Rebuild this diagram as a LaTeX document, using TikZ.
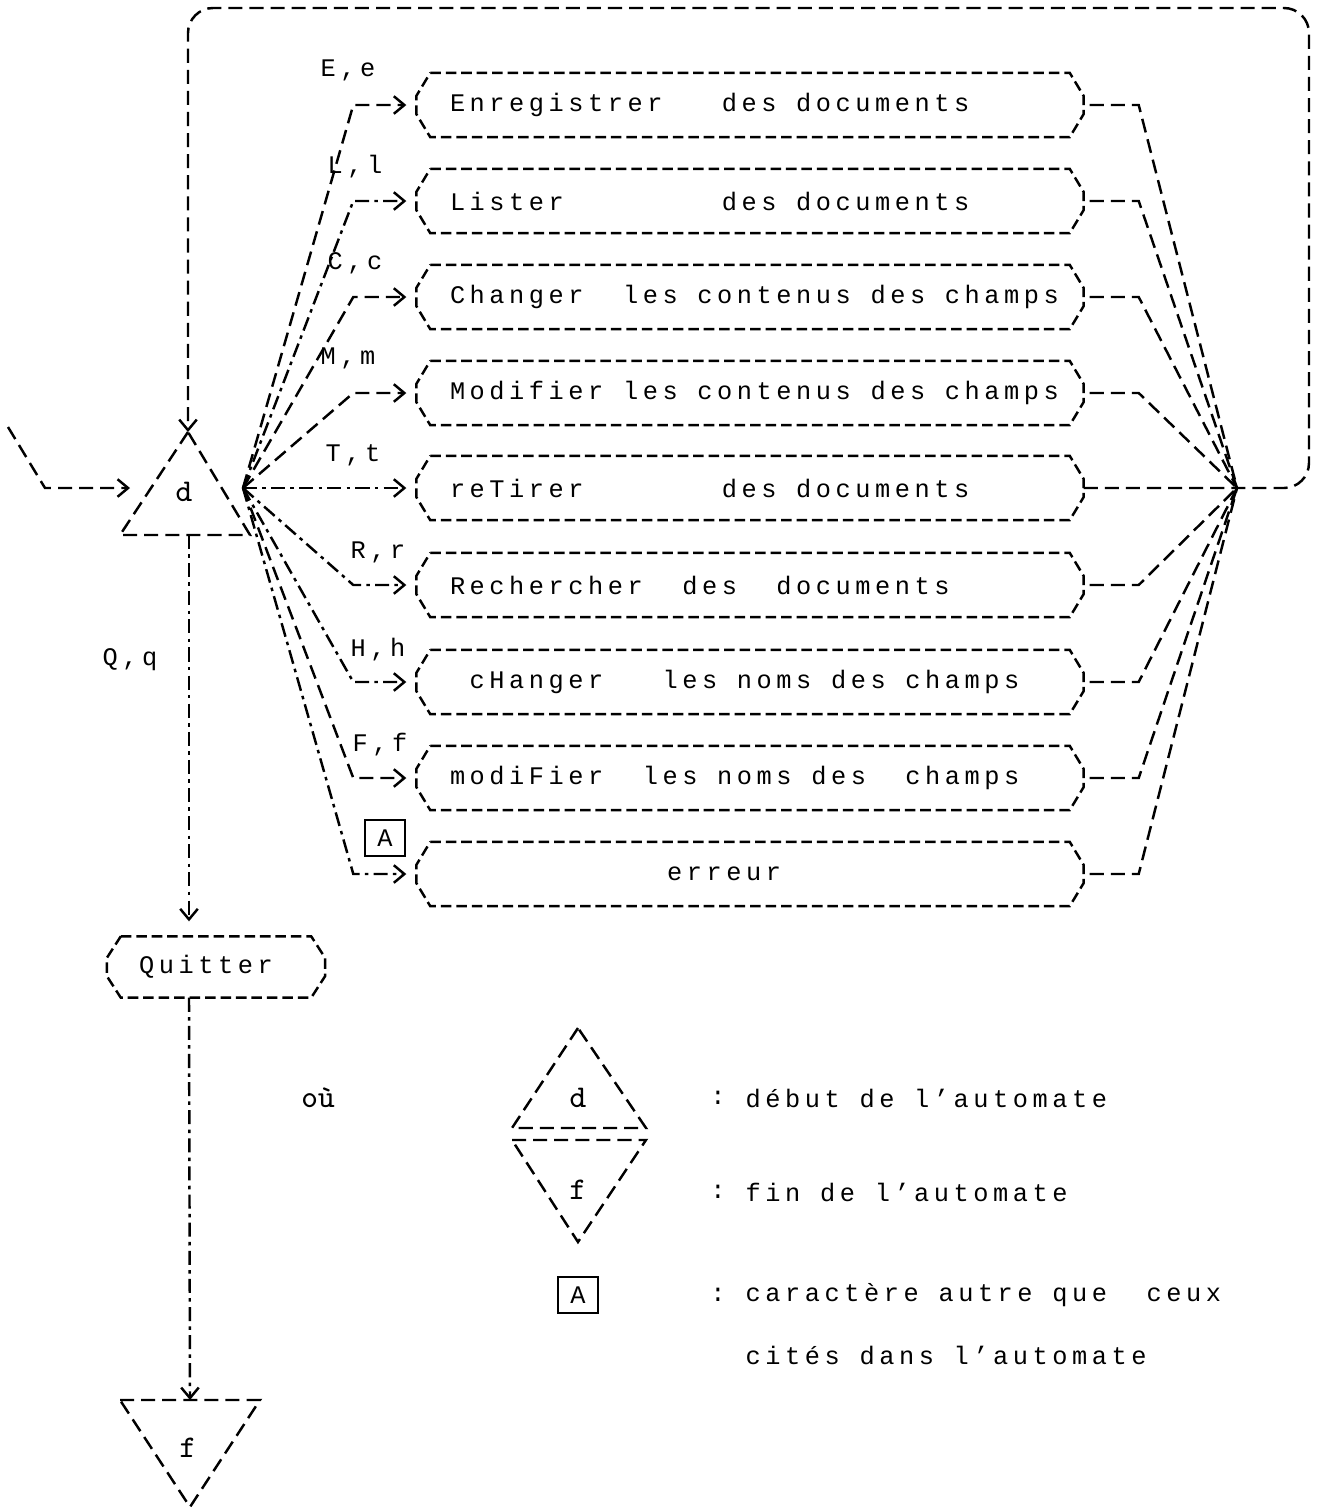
\documentclass[tikz,border=0pt]{standalone}
\usepackage{fontspec}
\usepackage{tikz}
\usetikzlibrary{positioning,arrows.meta,calc}
\newfontfamily\matrice[LetterSpace=18]{Liberation Mono}
\hfuzz=1cm

\begin{document}
\begin{tikzpicture}[
    every node/.style={font=\matrice\fontsize{7.2pt}{8.5pt}\selectfont, inner sep=0pt},
    trait/.style={line width=0.7pt, dash pattern=on 3pt off 1.4pt},                     % contour des etats
    lien/.style={line width=0.7pt, dash pattern=on 4pt off 2pt},                        % transition
    lienpt/.style={line width=0.7pt, dash pattern=on 4pt off 1.5pt on 1pt off 1.5pt},   % transition trait-point
    fleche/.style={-{Straight Barb[length=3pt, width=5pt]}},
    etat/.style={minimum width=6.66cm, minimum height=0.63cm, text width=6.40cm, inner xsep=0.13cm, align=left,
      execute at begin node={\spaceskip=0pt\xspaceskip=0pt\hspace*{0.20cm}}},
    lettre/.style={font=\ttfamily\fontsize{9pt}{10pt}\selectfont},
    autre/.style={draw, line width=0.7pt, minimum width=0.4cm, minimum height=0.36cm}
  ]
  \useasboundingbox (0,0) rectangle (13.19,-15.09);

  % ============ etat de depart ===========================================
  \coordinate (dsommet) at (1.88,-4.32);
  \coordinate (dg) at (1.20,-5.35);
  \coordinate (dd) at (2.50,-5.35);
  \coordinate (dbas) at (1.89,-5.35);
  \draw[lien] (dsommet) -- (dg) -- (dd) -- cycle;
  \node[lettre] (d) at (1.84,-4.92) {d};
  \coordinate (entree) at (0.08,-4.27);
  \coordinate (dgauche) at (1.30,-4.88);
  \coordinate (dep) at (2.43,-4.88);     % eclatement
  \coordinate (fin) at (12.37,-4.88);    % regroupement
  \draw[lien, fleche] (entree) -- (0.45,-4.88) -- (dgauche);

  % ============ les etats ================================================
  \node[etat] (enr) at (7.50,-1.05) {Enregistrer~~~des documents};
  \node[etat] (lis) at (7.50,-2.01) {Lister~~~~~~~~des documents};
  \node[etat] (cha) at (7.50,-2.97) {Changer~~les contenus des champs};
  \node[etat] (mod) at (7.50,-3.93) {Modifier les contenus des champs};
  \node[etat] (ret) at (7.50,-4.88) {reTirer~~~~~~~des documents};
  \node[etat] (rec) at (7.50,-5.85) {Rechercher~~des~~documents};
  \node[etat] (chn) at (7.50,-6.82) {~cHanger~~~les noms des champs};
  \node[etat] (mdf) at (7.50,-7.78) {modiFier~~les noms des~~champs};
  \node[etat] (err) at (7.50,-8.74) {~~~~~~~~~~~erreur};
  \node[minimum width=2.17cm, minimum height=0.60cm] (quit) at (2.16,-9.67) {Quitter\hspace*{0.2cm}};

  \foreach \b in {enr,lis,cha,mod,ret,rec,chn,mdf,err,quit}
    \draw[trait] ([xshift=0.14cm]\b.north west) -- ([xshift=-0.14cm]\b.north east)
      -- ([yshift=0.09cm]\b.east) -- ([yshift=-0.09cm]\b.east)
      -- ([xshift=-0.14cm]\b.south east) -- ([xshift=0.14cm]\b.south west)
      -- ([yshift=-0.09cm]\b.west) -- ([yshift=0.09cm]\b.west) -- cycle;

  % etiquettes des transitions
  \node (lE) at (3.48,-0.70) {E,e};
  \node (lL) at (3.55,-1.67) {L,l};
  \node (lC) at (3.55,-2.63) {C,c};
  \node (lM) at (3.48,-3.58) {M,m};
  \node (lT) at (3.53,-4.55) {T,t};
  \node (lR) at (3.78,-5.52) {R,r};
  \node (lH) at (3.78,-6.50) {H,h};
  \node (lF) at (3.80,-7.45) {F,f};
  \node[autre] (lA) at (3.85,-8.38) {A};
  \node (lQ) at (1.30,-6.60) {Q,q};

  % ============ transitions ==============================================
  \foreach \b/\s in {enr/lien,lis/lienpt,cha/lien,mod/lien,ret/lienpt,rec/lienpt,chn/lienpt,mdf/lien,err/lienpt}
    \draw[\s, fleche, shorten >=0.1cm] (dep) -- ([xshift=-0.63cm]\b.west) -- (\b.west);

  \foreach \b in {enr,lis,cha,mod,rec,chn,mdf,err}
    \draw[lien, shorten <=0.06cm] (\b.east) -- ([xshift=0.55cm]\b.east) -- (fin);

  % retour au debut
  \draw[lien, fleche, rounded corners=0.25cm] (ret.east) -- (fin) -- (13.09,-4.88)
    -- (13.09,-0.08) -- (1.88,-0.08) -- (dsommet);

  % sortie
  \coordinate (fg) at (1.20,-14.00);
  \coordinate (fd) at (2.60,-14.00);
  \coordinate (fsommet) at (1.90,-15.07);
  \coordinate (fbase) at (1.90,-14.00);
  \draw[lien] (fg) -- (fd) -- (fsommet) -- cycle;
  \node[lettre] (f) at (1.88,-14.48) {f};

  \draw[lienpt, fleche, shorten >=0.15cm] (dbas) -- (dbas |- quit.north);
  \draw[lienpt, fleche] (dbas |- quit.south) -- (fbase);

  % ============ legende ==================================================
  \node[lettre] (ou) at (3.18,-10.98) {où};
  \coordinate (ldsommet) at (5.78,-10.28);
  \coordinate (ldg) at (5.12,-11.28);
  \coordinate (ldd) at (6.46,-11.28);
  \draw[lien] (ldsommet) -- (ldg) -- (ldd) -- cycle;
  \node[lettre] (ld) at (5.78,-10.98) {d};
  \coordinate (lfg) at (5.12,-11.40);
  \coordinate (lfd) at (6.46,-11.40);
  \coordinate (lfsommet) at (5.78,-12.42);
  \draw[lien] (lfg) -- (lfd) -- (lfsommet) -- cycle;
  \node[lettre] (lf) at (5.78,-11.90) {f};
  \node[autre] (la) at (5.78,-12.95) {A};

  \node (p1) at (7.18,-10.98) {:};
  \node (p2) at (7.18,-11.92) {:};
  \node (p3) at (7.18,-12.95) {:};
  \node[anchor=west] (t1) at (7.45,-10.98) {début de l’automate};
  \node[anchor=west] (t2) at (7.45,-11.92) {fin de l’automate};
  \node[anchor=west] (t3) at (7.45,-12.95) {caractère autre que~~ceux};
  \node[anchor=west] (t4) at (7.45,-13.55) {cités dans l’automate};

\end{tikzpicture}
\end{document}
